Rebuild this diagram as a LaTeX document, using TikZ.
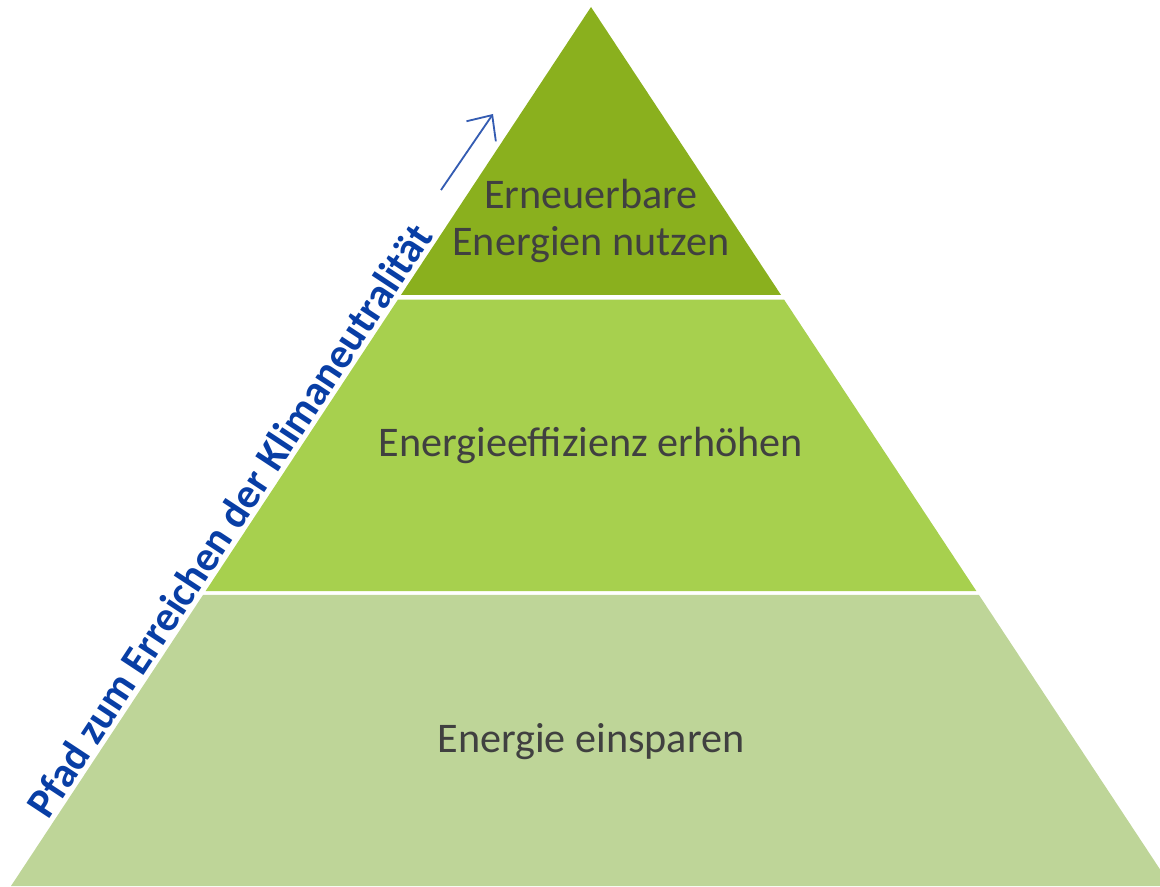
\documentclass[tikz,border=0pt]{standalone}
\usepackage{fontspec}
\setmainfont{Carlito}
\usetikzlibrary{positioning,calc,arrows.meta}
\definecolor{topgreen}{RGB}{138,176,30}
\definecolor{midgreen}{RGB}{167,208,78}
\definecolor{lowgreen}{RGB}{190,213,152}
\definecolor{labelgray}{RGB}{64,64,64}
\definecolor{pathblue}{RGB}{8,62,165}
\definecolor{arrowblue}{RGB}{52,92,178}

\begin{document}
\begin{tikzpicture}[
    x=0.025cm, y=-0.025cm,
    layertext/.style={text=labelgray, align=center, inner sep=0pt,
                 font=\fontsize{30}{34}\selectfont},
    pathtext/.style={text=pathblue, anchor=south, inner sep=3pt, rotate=56.6,
                 font=\bfseries\fontsize{30}{34}\selectfont},
    arr/.style={-{Straight Barb[length=0.49cm, width=0.89cm]}, line width=1.3pt, arrowblue}
  ]
    \useasboundingbox (0,0) rectangle (1160,887);
    \begin{scope}
    \clip (0,0) rectangle (1160,887);
    \coordinate (apex) at (591,7);
    \coordinate (bl) at (11,886);
    \coordinate (br) at (1171,886);

    % three layers, with a thin white gap in between
    \fill[topgreen] (apex) -- ($(apex)!0.3276!(bl)$) -- ($(apex)!0.3276!(br)$) -- cycle;
    \fill[midgreen] ($(apex)!0.333!(bl)$) -- ($(apex)!0.6644!(bl)$)
                 -- ($(apex)!0.6644!(br)$) -- ($(apex)!0.333!(br)$) -- cycle;
    \fill[lowgreen] ($(apex)!0.6689!(bl)$) -- (bl) -- (br) -- ($(apex)!0.6689!(br)$) -- cycle;
    \end{scope}

    \node[layertext] (renew) at (591,221) {Erneuerbare\\Energien nutzen};
    \node[layertext] (effic) at (591,445) {Energieeffizienz erhöhen};
    \node[layertext] (saving) at (591,742) {Energie einsparen};

    % label along the left flank and its arrow
    \node[pathtext] (pathlabel) at ($(bl)!0.404!(apex)$) {Pfad zum Erreichen der Klimaneutralität};
    \coordinate (arrtail) at (441,190);
    \coordinate (arrhead) at (493,114);
    \draw[arr] (arrtail) -- (arrhead);
  \end{tikzpicture}
\end{document}
